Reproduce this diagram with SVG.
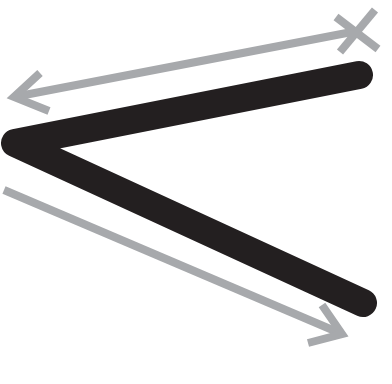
<svg xmlns="http://www.w3.org/2000/svg" width="392" height="384" viewBox="0 0 392 384">
<style>
.g{fill:none;stroke:#a7a9ac;stroke-width:8;stroke-linejoin:miter;stroke-miterlimit:10}
.k{fill:none;stroke:#231f20;stroke-width:28;stroke-linecap:round;stroke-linejoin:round}
</style>
<rect width="392" height="384" fill="#fff"/>
<g id="shape">
<polyline class="k" points="359,75 15,143 363,303"/>
</g>
<g id="connectors">
<line class="g" x1="357" y1="31" x2="14" y2="97"/>
<polyline class="g" points="40,73 14,97 49,111"/>
<line class="g" x1="336" y1="17" x2="378" y2="49"/>
<line class="g" x1="375" y1="10" x2="340" y2="52"/>
<line class="g" x1="4" y1="190" x2="342" y2="334"/>
<polyline class="g" points="322,305 342,334 308,343"/>
</g>
</svg>
